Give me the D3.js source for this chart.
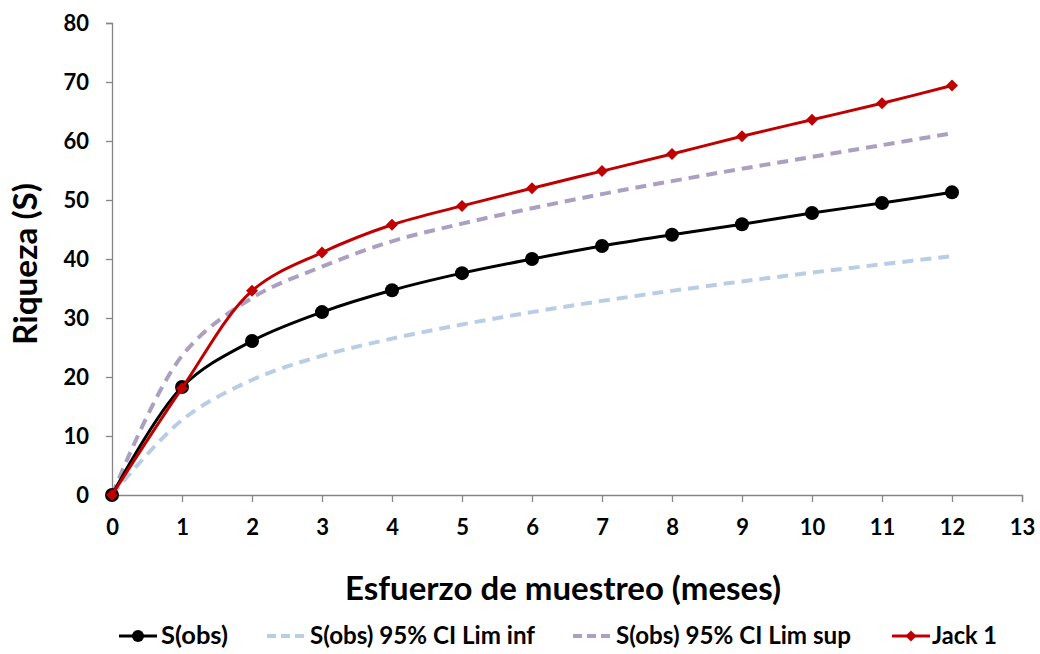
<!DOCTYPE html>
<html>
<head>
<meta charset="utf-8">
<script src="https://cdn.jsdelivr.net/npm/d3@7"></script>
<style>
  html, body { margin: 0; padding: 0; background: #fff; }
  svg { display: block; font-family: Lato, "Open Sans", sans-serif; }
</style>
</head>
<body>
<svg id="chart" width="1040" height="654"></svg>
<script>
const months = [0, 1, 2, 3, 4, 5, 6, 7, 8, 9, 10, 11, 12];
const sObs = [0, 18.3, 26.1, 31.0, 34.7, 37.6, 40.0, 42.2, 44.1, 45.9, 47.8, 49.5, 51.3];
const ciInf = [0, 12.7, 19.5, 23.6, 26.5, 28.9, 31.0, 32.9, 34.6, 36.2, 37.7, 39.1, 40.5];
const ciSup = [0, 23.6, 33.4, 38.7, 43.0, 46.0, 48.6, 51.0, 53.2, 55.3, 57.3, 59.3, 61.3];
const jack1 = [0, 18.1, 34.6, 41.1, 45.8, 49.0, 52.0, 54.9, 57.8, 60.8, 63.6, 66.4, 69.4];
const xTicks = d3.range(0, 14);
const yTicks = [0, 10, 20, 30, 40, 50, 60, 70, 80];
const seriesNames = ["S(obs)", "S(obs) 95% CI Lim inf", "S(obs) 95% CI Lim sup", "Jack 1"];

const svg = d3.select("#chart");
const x = d3.scaleLinear().domain([0, 13]).range([112, 1022]);
const y = d3.scaleLinear().domain([0, 80]).range([495, 23]);
const axisColor = "#868686";

// axes
const gx = svg.append("g").attr("transform", `translate(0,${y(0)})`)
  .call(d3.axisBottom(x).tickValues(xTicks).tickSize(7).tickPadding(17).tickFormat(d3.format("d")));
const gy = svg.append("g").attr("transform", `translate(${x(0)},0)`)
  .call(d3.axisLeft(y).tickValues(yTicks).tickSize(6).tickPadding(17).tickFormat(d3.format("d")));
[gx, gy].forEach(g => {
  g.select(".domain").attr("stroke", axisColor).attr("stroke-width", 1.3);
  g.selectAll(".tick line").attr("stroke", axisColor).attr("stroke-width", 1.3);
  g.selectAll(".tick text").attr("fill", "#000").attr("font-size", 22).attr("font-weight", "bold")
    .attr("font-family", "Lato, 'Open Sans', sans-serif");
});

// axis titles
svg.append("text").attr("x", 563).attr("y", 600).attr("text-anchor", "middle")
  .attr("font-size", 33).attr("font-weight", "bold")
  .attr("textLength", 436).attr("lengthAdjust", "spacingAndGlyphs")
  .text("Esfuerzo de muestreo (meses)");
svg.append("text").attr("transform", "translate(37,264) rotate(-90)").attr("text-anchor", "middle")
  .attr("font-size", 33).attr("font-weight", "bold")
  .attr("textLength", 162).attr("lengthAdjust", "spacingAndGlyphs")
  .text("Riqueza (S)");

const curve = d3.curveCatmullRom.alpha(0.5);
const line = d3.line().x((d, i) => x(months[i])).y(d => y(d)).curve(curve);

const styles = [
  { data: sObs, color: "#000000", width: 3, dash: null, marker: "circle" },
  { data: ciInf, color: "#b9cde5", width: 4, dash: "11,7", marker: null },
  { data: ciSup, color: "#ab9fc2", width: 4, dash: "11,7", marker: null },
  { data: jack1, color: "#c00000", width: 3, dash: null, marker: "diamond" }
];

const drawOrder = [1, 2, 0, 3];
drawOrder.forEach(k => {
  const s = styles[k];
  svg.append("path").datum(s.data).attr("d", line).attr("fill", "none")
    .attr("stroke", s.color).attr("stroke-width", s.width)
    .attr("stroke-dasharray", s.dash).attr("stroke-linecap", "butt");
  if (s.marker === "circle") {
    svg.append("g").selectAll("circle").data(s.data).join("circle")
      .attr("cx", (d, i) => x(months[i])).attr("cy", d => y(d)).attr("r", 7).attr("fill", s.color);
  } else if (s.marker === "diamond") {
    svg.append("g").selectAll("path").data(s.data).join("path")
      .attr("d", d3.symbol(d3.symbolSquare, 72)())
      .attr("transform", (d, i) => `translate(${x(months[i])},${y(d)}) rotate(45)`)
      .attr("fill", s.color);
  }
});

// legend
const legendY = 636;
const legendItems = [
  { x0: 119, x1: 157, tx: 161, tw: 67 },
  { x0: 267, x1: 306, tx: 310, tw: 225 },
  { x0: 573, x1: 613, tx: 616, tw: 235 },
  { x0: 892, x1: 930, tx: 932, tw: 65 }
];
legendItems.forEach((it, k) => {
  const s = styles[k];
  const g = svg.append("g");
  g.append("line").attr("x1", it.x0).attr("x2", it.x1).attr("y1", legendY).attr("y2", legendY)
    .attr("stroke", s.color).attr("stroke-width", s.width).attr("stroke-dasharray", s.dash ? "9,5" : null);
  const mx = (it.x0 + it.x1) / 2;
  if (s.marker === "circle") {
    g.append("circle").attr("cx", mx).attr("cy", legendY).attr("r", 6).attr("fill", s.color);
  } else if (s.marker === "diamond") {
    g.append("path").attr("d", d3.symbol(d3.symbolSquare, 60)())
      .attr("transform", `translate(${mx},${legendY}) rotate(45)`).attr("fill", s.color);
  }
  g.append("text").attr("x", it.tx).attr("y", legendY).attr("dy", "0.35em")
    .attr("font-size", 24).attr("font-weight", "bold").attr("fill", "#000")
    .attr("textLength", it.tw).attr("lengthAdjust", "spacingAndGlyphs")
    .text(seriesNames[k]);
});
</script>
</body>
</html>
